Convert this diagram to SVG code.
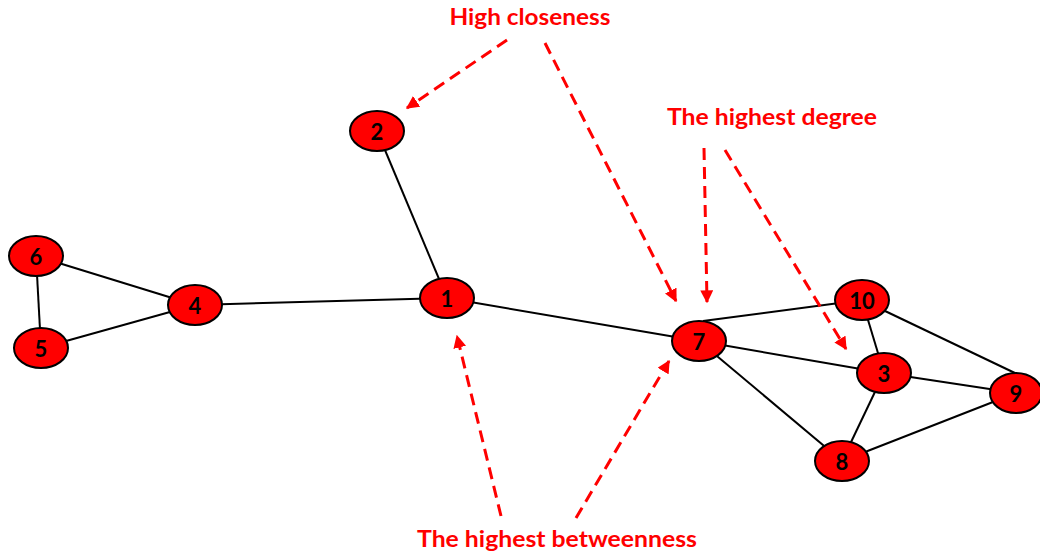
<svg xmlns="http://www.w3.org/2000/svg" width="1040" height="555" viewBox="0 0 1040 555">
<style>
.edge{stroke:#000;stroke-width:2;fill:none}
.node ellipse{fill:#ff0000;stroke:#000;stroke-width:2}
.node text{font-family:Lato,"Open Sans","Liberation Sans",sans-serif;font-weight:bold;font-size:22px;fill:#000;text-anchor:middle;dominant-baseline:central}
.ann{stroke:#ff0000;stroke-width:3;stroke-dasharray:12 7;fill:none;marker-end:url(#ah)}
.lbl{font-family:Lato,"Open Sans","Liberation Sans",sans-serif;font-weight:bold;font-size:22px;fill:#ff0000;text-anchor:middle}
</style>
<defs>
<marker id="ah" viewBox="0 0 10 10" refX="9" refY="5" markerUnits="userSpaceOnUse" markerWidth="13" markerHeight="13" orient="auto">
<path d="M0,0 L10,5 L0,10 z" fill="#ff0000"/>
</marker>
</defs>
<rect width="1040" height="555" fill="#fff"/>
<g id="edges">
<line class="edge" x1="377" y1="131" x2="447" y2="298"/>
<line class="edge" x1="36" y1="256" x2="195" y2="305"/>
<line class="edge" x1="36" y1="256" x2="41" y2="348"/>
<line class="edge" x1="41" y1="348" x2="195" y2="305"/>
<line class="edge" x1="195" y1="305" x2="447" y2="298"/>
<line class="edge" x1="447" y1="298" x2="699" y2="341"/>
<line class="edge" x1="703" y1="321" x2="862" y2="300"/>
<line class="edge" x1="699" y1="341" x2="884" y2="373"/>
<line class="edge" x1="699" y1="341" x2="842" y2="461"/>
<line class="edge" x1="862" y1="300" x2="884" y2="373"/>
<line class="edge" x1="862" y1="300" x2="1017" y2="374"/>
<line class="edge" x1="884" y1="373" x2="1016" y2="393"/>
<line class="edge" x1="884" y1="373" x2="842" y2="461"/>
<line class="edge" x1="842" y1="461" x2="1016" y2="393"/>
</g>
<g id="annotations">
<line class="ann" x1="507" y1="40" x2="407" y2="108"/>
<line class="ann" x1="545" y1="43" x2="676" y2="301"/>
<line class="ann" x1="704" y1="148" x2="707" y2="302"/>
<line class="ann" x1="725" y1="150" x2="846" y2="349"/>
<line class="ann" x1="501" y1="516" x2="457" y2="336"/>
<line class="ann" x1="576" y1="518" x2="669" y2="361"/>
</g>
<g id="node2" class="node"><ellipse cx="377" cy="131" rx="27" ry="20"/><text x="377" y="131">2</text></g>
<g id="node6" class="node"><ellipse cx="36" cy="256" rx="27" ry="20"/><text x="36" y="256">6</text></g>
<g id="node5" class="node"><ellipse cx="41" cy="348" rx="27" ry="20"/><text x="41" y="348">5</text></g>
<g id="node4" class="node"><ellipse cx="195" cy="305" rx="27" ry="20"/><text x="195" y="305">4</text></g>
<g id="node1" class="node"><ellipse cx="447" cy="298" rx="27" ry="20"/><text x="447" y="298">1</text></g>
<g id="node7" class="node"><ellipse cx="699" cy="341" rx="27" ry="20"/><text x="699" y="341">7</text></g>
<g id="node10" class="node"><ellipse cx="862" cy="300" rx="27" ry="20"/><text x="862" y="300">10</text></g>
<g id="node3" class="node"><ellipse cx="884" cy="373" rx="27" ry="20"/><text x="884" y="373">3</text></g>
<g id="node9" class="node"><ellipse cx="1016" cy="393" rx="26" ry="20"/><text x="1016" y="393">9</text></g>
<g id="node8" class="node"><ellipse cx="842" cy="461" rx="27" ry="20"/><text x="842" y="461">8</text></g>
<g id="labels">
<text class="lbl" x="530" y="25" textLength="161" lengthAdjust="spacingAndGlyphs">High closeness</text>
<text class="lbl" x="772" y="125" textLength="210" lengthAdjust="spacingAndGlyphs">The highest degree</text>
<text class="lbl" x="557" y="547" textLength="280" lengthAdjust="spacingAndGlyphs">The highest betweenness</text>
</g>
</svg>
